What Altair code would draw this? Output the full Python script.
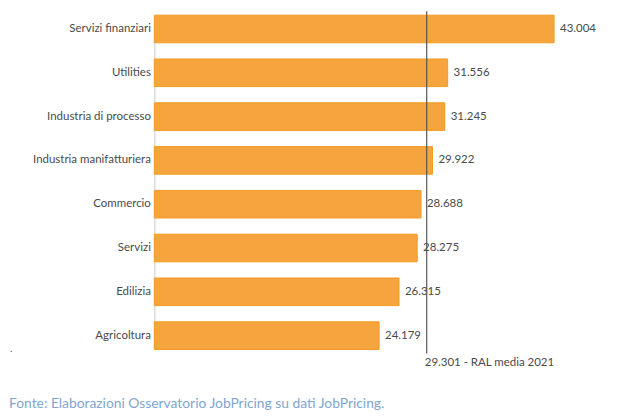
import altair as alt
import pandas as pd

categories = ["Servizi finanziari", "Utilities", "Industria di processo",
              "Industria manifatturiera", "Commercio", "Servizi", "Edilizia", "Agricoltura"]
values = [43004, 31556, 31245, 29922, 28688, 28275, 26315, 24179]
mean_value = 29301
mean_label = "29.301 - RAL media 2021"
footer = "Fonte: Elaborazioni Osservatorio JobPricing su dati JobPricing."

FONT = "Lato"
TXT = "#4a4a4a"

df = pd.DataFrame({"cat": categories, "v": values})
mean_df = pd.DataFrame({"v": [mean_value], "label": [mean_label]})
foot_df = pd.DataFrame({"t": [footer]})
dot_df = pd.DataFrame({"t": ["."]})

y_enc = alt.Y("cat:N", sort=categories,
              scale=alt.Scale(paddingInner=0.37, paddingOuter=0),
              axis=alt.Axis(title=None, ticks=False, labelPadding=4, labelFontSize=11.6,
                            labelFont=FONT, labelColor=TXT, domainColor="#c8c8c8",
                            labelLimit=200))
x_enc = alt.X("v:Q", scale=alt.Scale(domain=[0, 50000]), axis=None)

base = alt.Chart(df)
bars = base.mark_bar(color="#F5A43E", stroke="#F39A1E", strokeWidth=1).encode(x=x_enc, y=y_enc)
labels = base.transform_calculate(
    lab="replace(format(datum.v, ','), ',', '.')"
).mark_text(align="left", baseline="middle", dx=6, fontSize=11.6, font=FONT, color=TXT).encode(
    x=x_enc, y=alt.Y("cat:N", sort=categories), text="lab:N")

rule = alt.Chart(mean_df).mark_rule(color="#555555", strokeWidth=1.2).encode(
    x=alt.X("v:Q"), y=alt.value(-4), y2=alt.value(342))
rule_lab = alt.Chart(mean_df).mark_text(align="left", baseline="middle", dx=-2, fontSize=11.6,
                                         font=FONT, color=TXT).encode(
    x=alt.X("v:Q"), y=alt.value(352), text="label:N")

foot = alt.Chart(foot_df).mark_text(align="left", baseline="middle", fontSize=14,
                                     font=FONT, color="#7FA6D0").encode(
    x=alt.value(-147), y=alt.value(393), text="t:N")
dot = alt.Chart(dot_df).mark_text(align="left", baseline="middle", fontSize=10,
                                   font=FONT, color=TXT).encode(
    x=alt.value(-146), y=alt.value(338), text="t:N")

chart = alt.layer(bars, labels, rule, rule_lab, foot, dot).properties(
    width=470, height=338,
    autosize=alt.AutoSizeParams(type="none"),
    padding={"left": 148, "top": 5, "right": 10, "bottom": 60},
).configure_view(stroke=None)

chart.save("out.html", embed_options={"renderer": "svg", "actions": False})
